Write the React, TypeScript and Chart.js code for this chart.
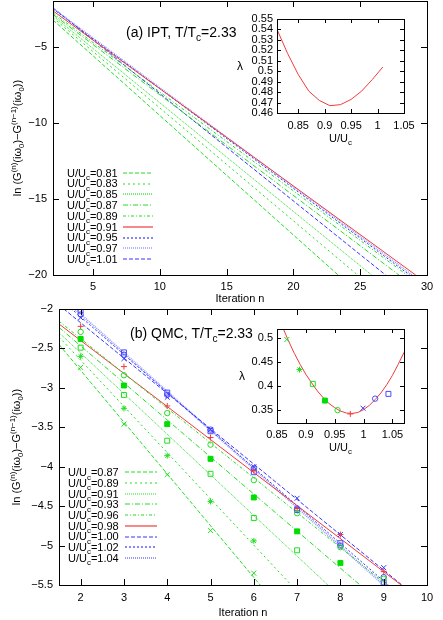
import React, { useEffect, useRef } from 'react';
import { Chart, registerables } from 'chart.js';

Chart.register(...registerables);

const FONT = '"Liberation Sans", Arial, Helvetica, sans-serif';

// ---------------- Panel (a): IPT ----------------
const iptU = ['0.81', '0.83', '0.85', '0.87', '0.89', '0.91', '0.95', '0.97', '1.01'];
const iptFirstIter = [2, 2, 2, 2, 2, 2, 2, 2, 2];
const iptFirstLn = [-3.25, -3.1, -2.98, -2.88, -2.78, -2.65, -2.52, -2.48, -2.45];
const iptLastIter = [23.35, 24.8, 25.85, 27.9, 28.5, 29.15, 28.7, 28.9, 26.9];
const iptLastLn = [-20, -20, -20, -20, -20, -20, -20, -20, -20];
const iptXTicks = [5, 10, 15, 20, 25, 30];
const iptYTicks = [-20, -15, -10, -5];

const iptInsetU = [0.81, 0.83, 0.85, 0.87, 0.89, 0.91, 0.93, 0.95, 0.97, 0.99, 1.01];
const iptInsetLambda = [0.54, 0.517, 0.497, 0.481, 0.472, 0.467, 0.468, 0.473, 0.481, 0.492, 0.504];
const iptInsetXTicks = [0.85, 0.9, 0.95, 1, 1.05];
const iptInsetYTicks = [0.46, 0.47, 0.48, 0.49, 0.5, 0.51, 0.52, 0.53, 0.54, 0.55];

// ---------------- Panel (b): QMC ----------------
const qmcU = ['0.87', '0.89', '0.91', '0.93', '0.96', '0.98', '1.00', '1.02', '1.04'];
const qmcIter = [2, 3, 4, 5, 6, 7, 8, 9];
const qmcLn087 = [-2.74, -3.46, -4.1, -4.81, -5.35];
const qmcLn089 = [-2.6, -3.26, -3.86, -4.44, -4.94];
const qmcLn091 = [-2.49, -3.09, -3.67, -4.09, -4.65, -5.06];
const qmcLn093 = [-2.38, -2.97, -3.46, -3.9, -4.39, -4.82, -5.22];
const qmcLn096 = [-2.29, -2.84, -3.32, -3.72, -4.17, -4.59, -5.02, -5.42];
const qmcLn098 = [-2.22, -2.73, -3.23, -3.63, -4.05, -4.53, -4.86, -5.33];
const qmcLn100 = [-2.11, -2.63, -3.12, -3.53, -4.0, -4.4, -4.86, -5.28];
const qmcLn102 = [-2.07, -2.58, -3.09, -3.53, -4.02, -4.53, -5.0, -5.4];
const qmcLn104 = [-2.02, -2.55, -3.06, -3.55, -4.07, -4.55, -4.97, -5.47];
const qmcPoints = [qmcLn087, qmcLn089, qmcLn091, qmcLn093, qmcLn096, qmcLn098, qmcLn100, qmcLn102, qmcLn104];
const qmcFitIter = [1.5, 10];
const qmcFitFirst = [-2.45, -2.355, -2.3, -2.233, -2.155, -2.19, -1.95, -1.86, -1.82];
const qmcFitLast = [-8.03, -7.34, -6.68, -6.226, -5.907, -5.75, -5.76, -5.93, -5.99];
const qmcXTicks = [2, 3, 4, 5, 6, 7, 8, 9, 10];
const qmcYTicks = [-5.5, -5, -4.5, -4, -3.5, -3, -2.5, -2];

const qmcInsetU = [0.867, 0.889, 0.912, 0.933, 0.955, 0.977, 0.999, 1.02, 1.043];
const qmcInsetLambda = [0.497, 0.434, 0.404, 0.369, 0.349, 0.341, 0.353, 0.373, 0.383];
const qmcCurveU = [0.86, 0.87, 0.88, 0.89, 0.9, 0.91, 0.92, 0.93, 0.94, 0.95, 0.96, 0.97, 0.98, 0.99, 1.0, 1.01, 1.02, 1.03, 1.04, 1.05, 1.06, 1.07];
const qmcCurveLambda = [0.522, 0.494, 0.468, 0.445, 0.424, 0.406, 0.389, 0.375, 0.363, 0.354, 0.347, 0.343, 0.342, 0.344, 0.35, 0.359, 0.371, 0.385, 0.402, 0.422, 0.445, 0.47];
const qmcInsetXTicks = [0.85, 0.9, 0.95, 1, 1.05];
const qmcInsetYTicks = [0.35, 0.4, 0.45, 0.5];

// ---------------- styles ----------------
const G = '#22dd22';
const R = '#f03c3c';
const B = '#3535ff';
const LB = '#9a9aff';

type Style = { c: string; d: number[]; w?: number; m?: string; r?: number; fill?: boolean; mc?: string };

const iptStyle: Style[] = [
  { c: G, d: [4, 2] },
  { c: G, d: [2, 3] },
  { c: G, d: [1, 1] },
  { c: G, d: [5, 2, 1, 2] },
  { c: G, d: [3, 2, 1, 2] },
  { c: R, d: [] },
  { c: B, d: [2, 2] },
  { c: LB, d: [1, 1], w: 1.5 },
  { c: B, d: [4, 2] },
];

const qmcStyle: Style[] = [
  { c: G, d: [4, 2], m: 'crossRot', r: 3.5 },
  { c: G, d: [2, 3], m: 'star', r: 3 },
  { c: G, d: [1, 1], m: 'rect', r: 3.5 },
  { c: G, d: [5, 2, 1, 2], m: 'rect', r: 3.5, fill: true, mc: '#00dd00' },
  { c: G, d: [3, 2, 1, 2], m: 'circle', r: 2.7 },
  { c: R, d: [], m: 'cross', r: 3 },
  { c: B, d: [4, 2], m: 'crossRot', r: 3.5 },
  { c: B, d: [2, 2], m: 'circle', r: 2.7, mc: '#4a4aff' },
  { c: LB, d: [1, 1], w: 2, m: 'rect', r: 3.5, mc: '#4a4aff' },
];

// ---------------- helpers ----------------
type Seg = [string, number?];

function drawRich(ctx: CanvasRenderingContext2D, segs: Seg[], x: number, y: number, size: number, align: 'left' | 'center' | 'right') {
  const small = size * 0.72;
  let w = 0;
  for (const [t, k] of segs) {
    ctx.font = `${k ? small : size}px ${FONT}`;
    w += ctx.measureText(t).width;
  }
  let cx = align === 'left' ? x : align === 'center' ? x - w / 2 : x - w;
  ctx.textAlign = 'left';
  ctx.textBaseline = 'alphabetic';
  ctx.fillStyle = '#000';
  const base = y + size * 0.36;
  for (const [t, k] of segs) {
    ctx.font = `${k ? small : size}px ${FONT}`;
    const dy = k === 1 ? size * 0.3 : k === -1 ? -size * 0.42 : 0;
    ctx.fillText(t, cx, base + dy);
    cx += ctx.measureText(t).width;
  }
}

function fmt(v: number) {
  const s = String(parseFloat(Number(v).toFixed(4)));
  return s.replace('-', '\u2212');
}

function axis(min: number, max: number, ticks: number[], fixed: number, pad: number) {
  return {
    type: 'linear',
    min,
    max,
    bounds: 'data',
    grid: { display: false, drawTicks: false },
    border: { display: false },
    ticks: {
      autoSkip: false,
      maxRotation: 0,
      minRotation: 0,
      padding: pad,
      color: '#000',
      font: { family: FONT, size: 11 },
      callback: (v: number) => fmt(v),
    },
    afterBuildTicks: (s: any) => {
      s.ticks = ticks.map((v) => ({ value: v }));
    },
    afterFit: (s: any) => {
      if (s.isHorizontal()) s.height = fixed;
      else s.width = fixed;
      s.paddingLeft = 0;
      s.paddingRight = 0;
      s.paddingTop = 0;
      s.paddingBottom = 0;
    },
  };
}

function framePlugin(xTicks: number[], yTicks: number[], tickLen: number, extra: (ctx: CanvasRenderingContext2D, a: any) => void) {
  return {
    id: 'frame',
    afterDraw(chart: any) {
      const { ctx, chartArea: a, scales } = chart;
      ctx.save();
      ctx.setLineDash([]);
      ctx.strokeStyle = '#000';
      ctx.lineWidth = 1;
      ctx.beginPath();
      for (const v of xTicks) {
        const px = Math.round(scales.x.getPixelForValue(v)) + 0.5;
        ctx.moveTo(px, a.bottom);
        ctx.lineTo(px, a.bottom - tickLen);
        ctx.moveTo(px, a.top);
        ctx.lineTo(px, a.top + tickLen);
      }
      for (const v of yTicks) {
        const py = Math.round(scales.y.getPixelForValue(v)) + 0.5;
        ctx.moveTo(a.left, py);
        ctx.lineTo(a.left + tickLen, py);
        ctx.moveTo(a.right, py);
        ctx.lineTo(a.right - tickLen, py);
      }
      ctx.stroke();
      ctx.strokeRect(Math.round(a.left) + 0.5, Math.round(a.top) + 0.5, Math.round(a.right - a.left), Math.round(a.bottom - a.top));
      extra(ctx, a);
      ctx.restore();
    },
  };
}

function drawLegend(ctx: CanvasRenderingContext2D, labels: string[], styles: Style[], x0: number, y0: number, dy: number, l0: number, l1: number) {
  labels.forEach((lab, i) => {
    const y = y0 + i * dy;
    drawRich(ctx, [['U/U'], ['c', 1], ['=' + lab]], x0, y, 11, 'left');
    const st = styles[i];
    ctx.strokeStyle = st.c;
    ctx.lineWidth = st.w || 1.2;
    ctx.setLineDash(st.d);
    ctx.beginPath();
    ctx.moveTo(l0, Math.round(y));
    ctx.lineTo(l1, Math.round(y));
    ctx.stroke();
  });
  ctx.setLineDash([]);
}

const yTitle: Seg[] = [['ln (G'], ['(n)', -1], ['(i\u03c9'], ['0', 1], [')\u2212G'], ['(n\u22121)', -1], ['(i\u03c9'], ['0', 1], ['))']];

function drawYTitle(ctx: CanvasRenderingContext2D, x: number, y: number) {
  ctx.save();
  ctx.translate(x, y);
  ctx.rotate(-Math.PI / 2);
  drawRich(ctx, yTitle, 0, 0, 11, 'center');
  ctx.restore();
}

function lineDs(pts: { x: number; y: number }[], st: Style) {
  return {
    data: pts,
    showLine: true,
    borderColor: st.c,
    borderDash: st.d,
    borderWidth: st.w || 1,
    pointRadius: 0,
    pointHoverRadius: 0,
    fill: false,
    tension: 0,
  };
}

function pointDs(xs: number[], ys: number[], st: Style) {
  const col = st.mc || st.c;
  return {
    data: ys.map((y, i) => ({ x: xs[i], y })),
    showLine: false,
    pointStyle: st.m,
    pointRadius: st.r,
    pointHoverRadius: st.r,
    pointBorderColor: col,
    pointBackgroundColor: st.fill ? col : 'rgba(0,0,0,0)',
    pointBorderWidth: 1,
  };
}

function baseOptions(x: any, y: any, padding: any) {
  return {
    responsive: false,
    maintainAspectRatio: false,
    animation: false,
    events: [],
    layout: { padding },
    plugins: { legend: { display: false }, tooltip: { enabled: false }, title: { display: false } },
    scales: { x, y },
  };
}

// ---------------- chart builders ----------------
function makeIptMain(): any {
  const datasets = iptU.map((_, i) =>
    lineDs(
      [
        { x: iptFirstIter[i], y: iptFirstLn[i] },
        { x: iptLastIter[i], y: iptLastLn[i] },
      ],
      iptStyle[i]
    )
  );
  return {
    type: 'scatter',
    data: { datasets },
    options: baseOptions(axis(2, 30, iptXTicks, 35, 5), axis(-20, -2, iptYTicks, 53, 6), { left: 0, top: 1, right: 16, bottom: 0 }),
    plugins: [
      framePlugin(iptXTicks, iptYTicks, 6, (ctx, a) => {
        drawYTitle(ctx, 17, (a.top + a.bottom) / 2);
        drawRich(ctx, [['Iteration n']], (a.left + a.right) / 2, a.bottom + 23, 11, 'center');
        drawRich(ctx, [['(a) IPT, T/T'], ['c', 1], ['=2.33']], 126, 32, 14, 'left');
        drawLegend(ctx, iptU, iptStyle, 67, 172.7, 10.8, 123, 153);
      }),
    ],
  };
}

function makeIptInset(): any {
  const st: Style = { c: R, d: [] };
  return {
    type: 'scatter',
    data: { datasets: [lineDs(iptInsetU.map((u, i) => ({ x: u, y: iptInsetLambda[i] })), st)] },
    options: baseOptions(axis(0.81, 1.05, iptInsetXTicks, 37, 6), axis(0.46, 0.55, iptInsetYTicks, 52, 4), { left: 0, top: 14, right: 21, bottom: 0 }),
    plugins: [
      framePlugin(iptInsetXTicks, iptInsetYTicks, 4, (ctx, a) => {
        drawRich(ctx, [['\u03bb']], 15, (a.top + a.bottom) / 2, 12, 'center');
        drawRich(ctx, [['U/U'], ['c', 1]], (a.left + a.right) / 2, a.bottom + 25, 11, 'center');
      }),
    ],
  };
}

function makeQmcMain(): any {
  const datasets: any[] = [];
  qmcU.forEach((_, i) => {
    datasets.push(pointDs(qmcIter, qmcPoints[i], qmcStyle[i]));
  });
  qmcU.forEach((_, i) => {
    datasets.push(
      lineDs(
        [
          { x: qmcFitIter[0], y: qmcFitFirst[i] },
          { x: qmcFitIter[1], y: qmcFitLast[i] },
        ],
        qmcStyle[i]
      )
    );
  });
  return {
    type: 'scatter',
    data: { datasets },
    options: baseOptions(axis(1.5, 10, qmcXTicks, 35, 6), axis(-5.5, -2, qmcYTicks, 59, 6), { left: 0, top: 9, right: 16, bottom: 0 }),
    plugins: [
      framePlugin(qmcXTicks, qmcYTicks, 6, (ctx, a) => {
        drawYTitle(ctx, 16, (a.top + a.bottom) / 2);
        drawRich(ctx, [['Iteration n']], (a.left + a.right) / 2, a.bottom + 27, 11, 'center');
        drawRich(ctx, [['(b) QMC, T/T'], ['c', 1], ['=2.33']], 130, 33, 14, 'left');
        drawLegend(ctx, qmcU, qmcStyle, 68, 172.3, 10.7, 125, 157);
      }),
    ],
  };
}

function makeQmcInset(): any {
  const datasets: any[] = [];
  qmcU.forEach((_, i) => {
    datasets.push(pointDs([qmcInsetU[i]], [qmcInsetLambda[i]], qmcStyle[i]));
  });
  datasets.push(lineDs(qmcCurveU.map((u, i) => ({ x: u, y: qmcCurveLambda[i] })), { c: R, d: [] }));
  return {
    type: 'scatter',
    data: { datasets },
    options: baseOptions(axis(0.85, 1.07, qmcInsetXTicks, 37, 5), axis(0.322, 0.519, qmcInsetYTicks, 52, 4), { left: 0, top: 14, right: 21, bottom: 0 }),
    plugins: [
      framePlugin(qmcInsetXTicks, qmcInsetYTicks, 4, (ctx, a) => {
        drawRich(ctx, [['\u03bb']], 17, (a.top + a.bottom) / 2, 12, 'center');
        drawRich(ctx, [['U/U'], ['c', 1]], (a.left + a.right) / 2, a.bottom + 24, 11, 'center');
      }),
    ],
  };
}

function Plot({ left, top, width, height, make }: { left: number; top: number; width: number; height: number; make: () => any }) {
  const ref = useRef<HTMLCanvasElement>(null);
  useEffect(() => {
    const chart = new Chart(ref.current as HTMLCanvasElement, make());
    return () => chart.destroy();
  }, []);
  return <canvas ref={ref} width={width} height={height} style={{ position: 'absolute', left, top, width, height }} />;
}

export default function App() {
  return (
    <div style={{ position: 'absolute', left: 0, top: 0, width: 443, height: 620, background: '#fff', overflow: 'hidden' }}>
      <Plot left={0} top={0} width={443} height={310} make={makeIptMain} />
      <Plot left={225} top={5} width={200} height={145} make={makeIptInset} />
      <Plot left={0} top={300} width={443} height={320} make={makeQmcMain} />
      <Plot left={225} top={315} width={200} height={145} make={makeQmcInset} />
    </div>
  );
}
